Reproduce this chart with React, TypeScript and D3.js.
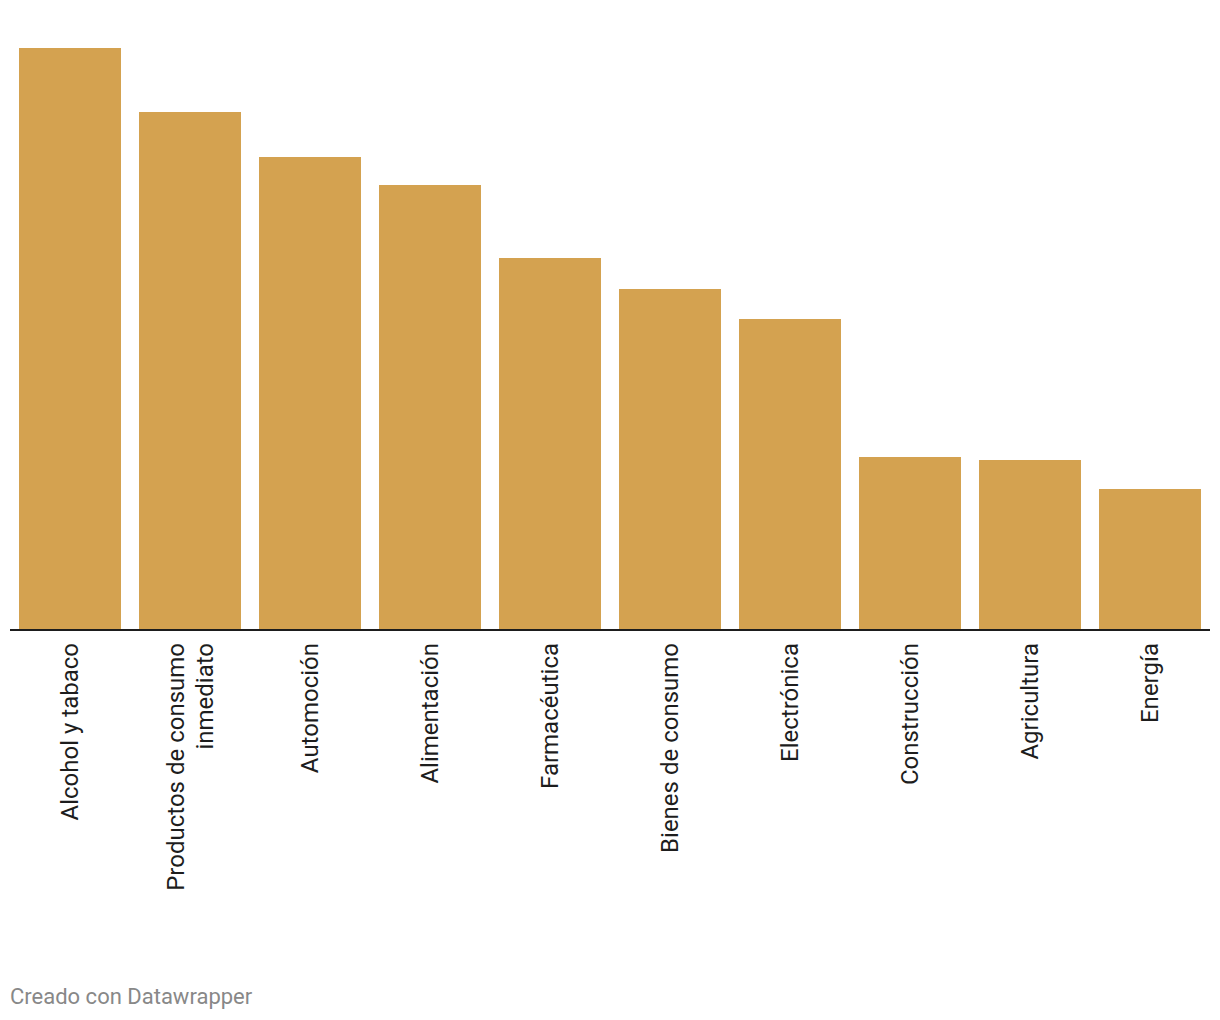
import React from 'react';
import * as d3 from 'd3';

// sectores y altura relativa de cada barra (sin eje de valores en el original)
const categories = [
  'Alcohol y tabaco',
  'Productos de consumo\ninmediato',
  'Automoción',
  'Alimentación',
  'Farmacéutica',
  'Bienes de consumo',
  'Electrónica',
  'Construcción',
  'Agricultura',
  'Energía',
];
const values = [582, 518, 473, 445, 372, 341, 311, 173, 170, 141];

const W = 1220;
const H = 1020;
const BAR_COLOR = '#d4a250';
const FONT = 'Roboto, "Noto Sans", sans-serif';

const App: React.FC = () => {
  const x = d3.scaleBand<string>()
    .domain(categories)
    .range([10, 1210])
    .paddingInner(0.15)
    .paddingOuter(0.075);

  const y = d3.scaleLinear()
    .domain([0, 600])
    .range([630, 30]);

  const labelSize = 24;
  const lineH = 29;

  return (
    <div style={{ position: 'absolute', left: 0, top: 0 }}>
      <svg width={W} height={H} style={{ display: 'block', background: '#fff' }}>
        {categories.map((c, i) => (
          <rect
            key={c}
            x={x(c)}
            y={y(values[i])}
            width={x.bandwidth()}
            height={y(0) - y(values[i])}
            fill={BAR_COLOR}
          />
        ))}
        <line x1={10} x2={1210} y1={630} y2={630} stroke="#1d1d1d" strokeWidth={2} />
        {categories.map((c) => {
          const lines = c.split('\n');
          const cx = (x(c) ?? 0) + x.bandwidth() / 2;
          return (
            <text
              key={c}
              transform={`translate(${cx},643) rotate(-90)`}
              textAnchor="end"
              fontFamily={FONT}
              fontSize={labelSize}
              fill="#1d1d1d"
            >
              {lines.map((l, j) => (
                <tspan key={j} x={0} y={(j - (lines.length - 1) / 2) * lineH} dy="0.35em">
                  {l}
                </tspan>
              ))}
            </text>
          );
        })}
        <text x={10} y={1004} fontFamily={FONT} fontSize={22} fill="#888888">
          Creado con Datawrapper
        </text>
      </svg>
    </div>
  );
};

export default App;
